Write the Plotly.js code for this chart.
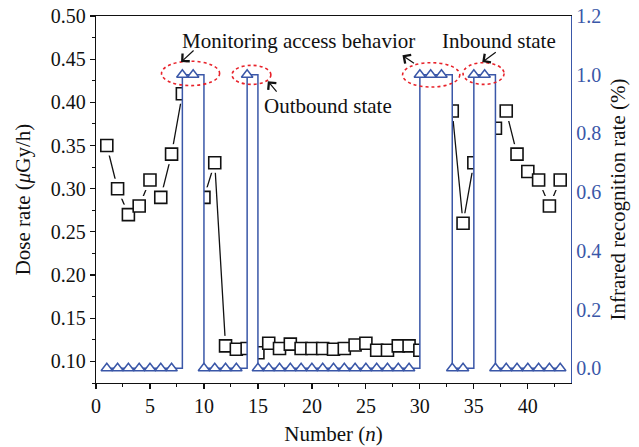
<!DOCTYPE html>
<html>
<head>
<meta charset="utf-8">
<script src="https://cdn.plot.ly/plotly-3.0.1.min.js"></script>
<style>html,body{margin:0;padding:0;background:#fff;}#chart{width:639px;height:447px;}</style>
</head>
<body>
<div id="chart"></div>
<script>
// Sample number n
const numbers = [1,2,3,4,5,6,7,8,9,10,11,12,13,14,15,16,17,18,19,20,21,22,23,24,25,26,27,28,29,30,31,32,33,34,35,36,37,38,39,40,41,42,43];
// Dose rate (µGy/h)
const doseRate = [0.35,0.30,0.27,0.28,0.31,0.29,0.34,0.41,0.40,0.29,
                  0.33,0.118,0.114,0.115,0.11,0.121,0.115,0.12,0.115,0.115,
                  0.115,0.114,0.115,0.119,0.121,0.113,0.113,0.118,0.118,0.113,
                  0.25,0.35,0.39,0.26,0.33,0.36,0.37,0.39,0.34,0.32,
                  0.31,0.28,0.31];
// Infrared recognition (0 / 1)
const infrared = [0,0,0,0,0,0,0,1,1,0,
                  0,0,0,1,0,0,0,0,0,0,
                  0,0,0,0,0,0,0,0,0,1,
                  1,1,0,0,1,1,0,0,0,0,
                  0,0,0];
// Highlight ellipses (data coordinates, right axis)
const ellipseX0 = [6.07, 12.6, 28.4, 34.0];
const ellipseX1 = [11.45, 16.2, 33.7, 37.8];
const ellipseY0 = [0.963, 0.967, 0.958, 0.967];
const ellipseY1 = [1.046, 1.032, 1.041, 1.041];
// Annotation labels
const labelTexts = ["Monitoring access behavior", "Outbound state", "Inbound state"];
const labelX = [18.75, 21.5, 37.3];
const labelY = [1.114, 0.895, 1.114];
// Arrow heads (data) and tail offsets (px)
const arrowX = [7.88, 28.39, 15.92, 35.78];
const arrowY = [1.043, 1.066, 0.978, 1.043];
const arrowAX = [14, 13, 10, 15];
const arrowAY = [-13, 9, 12, -11];

const BLUE = '#3a57a8';
const FONT = 'Liberation Serif, Times New Roman, DejaVu Serif, serif';

const traces = [
  {x: numbers, y: doseRate, type: 'scatter', mode: 'lines', yaxis: 'y',
   line: {color: '#111', width: 1.3}, hoverinfo: 'skip'},
  {x: numbers, y: doseRate, type: 'scatter', mode: 'markers', yaxis: 'y',
   marker: {symbol: 'square', size: 20, color: '#fff', line: {width: 0}}, hoverinfo: 'skip'},
  {x: numbers, y: doseRate, type: 'scatter', mode: 'markers', yaxis: 'y',
   marker: {symbol: 'square', size: 12, color: '#fff', line: {color: '#111', width: 1.6}}, hoverinfo: 'skip'},
  {x: numbers, y: infrared, type: 'scatter', mode: 'lines+markers', yaxis: 'y2',
   line: {color: BLUE, width: 1.5, shape: 'hv'}, fill: 'tozeroy', fillcolor: '#ffffff',
   marker: {symbol: 'triangle-up', size: 10, color: '#fff', line: {color: BLUE, width: 1.5}},
   hoverinfo: 'skip'}
];

const shapes = ellipseX0.map((x0, i) => ({
  type: 'circle', xref: 'x', yref: 'y2',
  x0: x0, x1: ellipseX1[i], y0: ellipseY0[i], y1: ellipseY1[i],
  line: {color: '#e8232b', width: 1.6, dash: 'dot'}
}));

const annotations = labelTexts.map((t, i) => ({
  text: t, x: labelX[i], y: labelY[i], xref: 'x', yref: 'y2',
  showarrow: false, xanchor: 'center', yanchor: 'middle',
  font: {family: FONT, size: 21, color: '#111'}
})).concat(arrowX.map((x, i) => ({
  text: '', x: x, y: arrowY[i], xref: 'x', yref: 'y2',
  showarrow: true, ax: arrowAX[i], ay: arrowAY[i],
  arrowhead: 4, arrowsize: 1.7, arrowwidth: 1.2, arrowcolor: '#111'
})));

const layout = {
  width: 639, height: 447,
  margin: {l: 96, r: 68, t: 16, b: 64},
  paper_bgcolor: '#fff', plot_bgcolor: '#fff',
  showlegend: false,
  font: {family: FONT, size: 20, color: '#111'},
  xaxis: {
    range: [0, 44], dtick: 5, tick0: 0, showgrid: false, zeroline: false,
    showline: true, linecolor: '#111', linewidth: 1.3, mirror: true,
    ticks: 'outside', ticklen: 5, tickwidth: 1.2, tickcolor: '#111',
    minor: {dtick: 2.5, ticks: 'outside', ticklen: 3, tickwidth: 1, tickcolor: '#111', showgrid: false},
    tickfont: {family: FONT, size: 20, color: '#111'},
    title: {text: 'Number (<i>n</i>)', font: {family: FONT, size: 21, color: '#111'}, standoff: 10}
  },
  yaxis: {
    range: [0.075, 0.5], dtick: 0.05, tick0: 0, tickformat: '.2f',
    showgrid: false, zeroline: false,
    showline: true, linecolor: '#111', linewidth: 1.3,
    ticks: 'outside', ticklen: 5, tickwidth: 1.2, tickcolor: '#111',
    minor: {dtick: 0.025, ticks: 'outside', ticklen: 3, tickwidth: 1, tickcolor: '#111', showgrid: false},
    tickfont: {family: FONT, size: 20, color: '#111'},
    title: {text: 'Dose rate (<i>μ</i>Gy/h)', font: {family: FONT, size: 21, color: '#111'}, standoff: 14}
  },
  yaxis2: {
    overlaying: 'y', side: 'right', anchor: 'x',
    range: [-0.05, 1.2], dtick: 0.2, tick0: 0, tickformat: '.1f',
    showgrid: false, zeroline: false,
    showline: true, linecolor: BLUE, linewidth: 1.3,
    ticks: '', tickfont: {family: FONT, size: 20, color: BLUE},
    title: {text: 'Infrared recognition rate (%)', font: {family: FONT, size: 21, color: '#111'}, standoff: 10}
  },
  shapes: shapes,
  annotations: annotations
};

Plotly.newPlot('chart', traces, layout, {staticPlot: true, displayModeBar: false});
</script>
</body>
</html>
